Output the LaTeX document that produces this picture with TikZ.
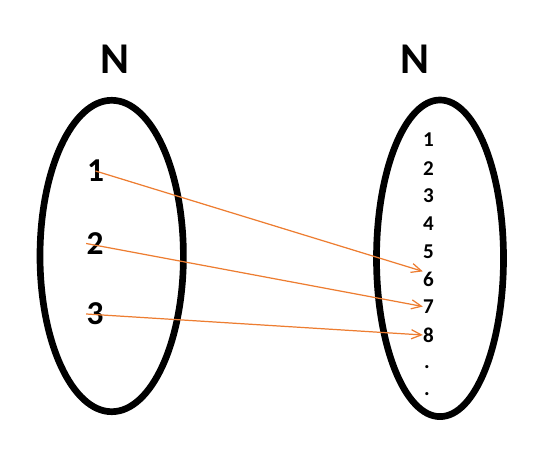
\documentclass[tikz,border=0pt]{standalone}
\usepackage{fontspec}
\setmainfont{Carlito}
\usetikzlibrary{arrows.meta}
\definecolor{maporange}{RGB}{237,125,49}

\begin{document}
\begin{tikzpicture}[scale=0.2]
\tikzstyle{every node}+=[inner sep=0pt]
\tikzstyle{setname}=[font=\fontsize{25}{30}\selectfont\bfseries]
\tikzstyle{bignum}=[font=\fontsize{19}{23}\selectfont\bfseries]
\tikzstyle{smallnum}=[font=\fontsize{12}{14}\selectfont\bfseries]
\tikzstyle{maparrow}=[maporange, line width=0.7pt, -{Straight Barb[length=5.7pt,width=5.2pt]}]
\useasboundingbox (0,0) rectangle (53.8,-46);
\draw [black, line width=3.8pt] (11.17,-25.6) ellipse (7.17 and 15.57);
\draw [black, line width=3.8pt] (44,-25.83) ellipse (6.35 and 15.83);
\draw (11.5,-5.9) node [setname] (dom) {N};
\draw (41.5,-5.9) node [setname] (cod) {N};
\draw (9.55,-17.1) node [bignum] (a1) {1};
\draw (9.5,-24.35) node [bignum] (a2) {2};
\draw (9.5,-31.4) node [bignum] (a3) {3};
\draw (42.85,-14) node [smallnum] (b1) {1};
\draw (42.85,-16.85) node [smallnum] (b2) {2};
\draw (42.85,-19.6) node [smallnum] (b3) {3};
\draw (42.85,-22.35) node [smallnum] (b4) {4};
\draw (42.85,-25.15) node [smallnum] (b5) {5};
\draw (42.85,-27.9) node [smallnum] (b6) {6};
\draw (42.85,-30.65) node [smallnum] (b7) {7};
\draw (42.85,-33.5) node [smallnum] (b8) {8};
\draw (42.7,-36.7) node [smallnum] (dot1) {.};
\draw (42.7,-39.4) node [smallnum] (dot2) {.};
\draw [maparrow] (a1.center) -- (b6.north west);
\draw [maparrow] (a2.west) -- (b7.west);
\draw [maparrow] (a3.west) -- (b8.west);
\end{tikzpicture}
\end{document}
